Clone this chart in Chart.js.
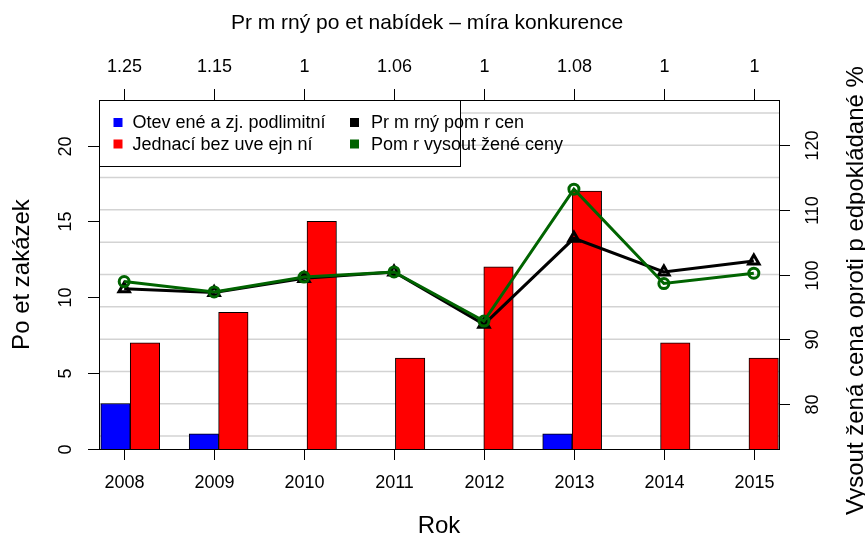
<!DOCTYPE html>
<html>
<head>
<meta charset="utf-8">
<script src="https://cdn.jsdelivr.net/npm/chart.js@4"></script>
<style>
  body { margin: 0; background: #fff; }
  #wrap { width: 865px; height: 533px; }
</style>
</head>
<body>
<div id="wrap"><canvas id="graf"></canvas></div>
<script>
// data
const roky = ["2008", "2009", "2010", "2011", "2012", "2013", "2014", "2015"];
const otevrene = [3, 1, 0, 0, 0, 1, 0, 0];
const jednaci = [7, 9, 15, 6, 12, 17, 7, 6];
const prumernyPomer = [97.8, 97.2, 99.4, 100.4, 92.3, 105.6, 100.4, 102.1];
const vysoutezene = [98.9, 97.3, 99.6, 100.4, 92.8, 113.2, 98.6, 100.2];
const nabidky = ["1.25", "1.15", "1", "1.06", "1", "1.08", "1", "1"];

const levaOsa = [0, 5, 10, 15, 20];
const pravaOsa = [80, 90, 100, 110, 120];
const mrizka = [75, 80, 85, 90, 95, 100, 105, 110, 115, 120, 125];

const FONT = '"Liberation Sans", Arial, Helvetica, sans-serif';

// bars sit at 3 units per year (blue, red, gap)
const sloupceModre = otevrene.map((v, i) => ({ x: 3 * i + 0.5, y: v }));
const sloupceCervene = jednaci.map((v, i) => ({ x: 3 * i + 1.5, y: v }));
const bodyCerne = prumernyPomer.map((v, i) => ({ x: i + 1, y: v }));
const bodyZelene = vysoutezene.map((v, i) => ({ x: i + 1, y: v }));

// gridlines behind the bars
const mrizkaPlugin = {
  id: "mrizka",
  beforeDatasetsDraw(chart) {
    const { ctx, chartArea: a, scales } = chart;
    ctx.save();
    ctx.strokeStyle = "#d3d3d3";
    ctx.lineWidth = 1.5;
    mrizka.forEach(v => {
      const y = scales.yr.getPixelForValue(v);
      ctx.beginPath();
      ctx.moveTo(a.left, y);
      ctx.lineTo(a.right, y);
      ctx.stroke();
    });
    ctx.restore();
  }
};

// axes, titles and legend in R style
const osyPlugin = {
  id: "osy",
  afterDraw(chart) {
    const { ctx, chartArea: a, scales } = chart;
    const tick = 11;
    ctx.save();
    ctx.strokeStyle = "#000";
    ctx.fillStyle = "#000";
    ctx.lineWidth = 1;
    ctx.strokeRect(a.left + 0.5, a.top + 0.5, a.right - a.left, a.bottom - a.top);

    ctx.font = "18px " + FONT;
    ctx.textAlign = "center";
    ctx.textBaseline = "middle";

    // bottom + top axes
    roky.forEach((r, i) => {
      const x = Math.round(scales.xl.getPixelForValue(i + 1)) + 0.5;
      ctx.beginPath();
      ctx.moveTo(x, a.bottom); ctx.lineTo(x, a.bottom + tick);
      ctx.moveTo(x, a.top); ctx.lineTo(x, a.top - tick);
      ctx.stroke();
      ctx.fillText(r, x, a.bottom + 34);
      ctx.fillText(nabidky[i], x, a.top - 33);
    });

    // left axis
    levaOsa.forEach(v => {
      const y = Math.round(scales.yl.getPixelForValue(v)) + 0.5;
      ctx.beginPath();
      ctx.moveTo(a.left, y); ctx.lineTo(a.left - tick, y);
      ctx.stroke();
      ctx.save();
      ctx.translate(a.left - 33, y);
      ctx.rotate(-Math.PI / 2);
      ctx.fillText(String(v), 0, 0);
      ctx.restore();
    });

    // right axis
    pravaOsa.forEach(v => {
      const y = Math.round(scales.yr.getPixelForValue(v)) + 0.5;
      ctx.beginPath();
      ctx.moveTo(a.right, y); ctx.lineTo(a.right + tick, y);
      ctx.stroke();
      ctx.save();
      ctx.translate(a.right + 34, y);
      ctx.rotate(-Math.PI / 2);
      ctx.fillText(String(v), 0, 0);
      ctx.restore();
    });

    // titles
    const stredX = (a.left + a.right) / 2;
    const stredY = (a.top + a.bottom) / 2;
    ctx.font = "21px " + FONT;
    ctx.fillText("Pr m rný po et nabídek – míra konkurence", stredX - 12, a.top - 77);
    ctx.font = "24px " + FONT;
    ctx.fillText("Rok", stredX, a.bottom + 77);
    ctx.save();
    ctx.translate(a.left - 77, stredY);
    ctx.rotate(-Math.PI / 2);
    ctx.fillText("Po et zakázek", 0, 0);
    ctx.restore();
    ctx.save();
    ctx.translate(a.right + 77, stredY + 16);
    ctx.rotate(-Math.PI / 2);
    ctx.fillText("Vysout žená cena oproti p edpokládané %", 0, 0);
    ctx.restore();

    // legend
    const lx = a.left, ly = a.top;
    ctx.fillStyle = "#fff";
    ctx.fillRect(lx, ly, 361, 66);
    ctx.strokeRect(lx + 0.5, ly + 0.5, 361, 66);
    const polozky = [
      ["Otev ené a zj. podlimitní", "#0000ff", 0, 0],
      ["Jednací bez uve ejn ní", "#ff0000", 0, 1],
      ["Pr m rný pom r cen", "#000000", 1, 0],
      ["Pom r vysout žené ceny", "#006400", 1, 1]
    ];
    ctx.font = "18px " + FONT;
    ctx.textAlign = "left";
    polozky.forEach(([txt, barva, sl, rad]) => {
      const sx = lx + (sl ? 255.5 : 19);
      const sy = ly + (rad ? 44 : 22.5);
      ctx.fillStyle = barva;
      ctx.fillRect(sx - 4.5, sy - 4.5, 9, 9);
      ctx.fillStyle = "#000";
      ctx.fillText(txt, sx + (sl ? 16.5 : 14.5), sy + 1);
    });
    ctx.restore();
  }
};

new Chart(document.getElementById("graf"), {
  type: "bar",
  data: {
    datasets: [
      {
        label: "Pom r vysout žené ceny",
        type: "line",
        data: bodyZelene,
        xAxisID: "xl", yAxisID: "yr",
        borderColor: "#006400",
        borderWidth: 3,
        pointStyle: "circle",
        pointRadius: 5,
        pointBorderWidth: 3,
        pointBorderColor: "#006400",
        pointBackgroundColor: "rgba(0,0,0,0)",
        tension: 0,
        order: 1
      },
      {
        label: "Pr m rný pom r cen",
        type: "line",
        data: bodyCerne,
        xAxisID: "xl", yAxisID: "yr",
        borderColor: "#000",
        borderWidth: 3,
        pointStyle: "triangle",
        pointRadius: 6,
        pointBorderWidth: 3,
        pointBorderColor: "#000",
        pointBackgroundColor: "rgba(0,0,0,0)",
        tension: 0,
        order: 2
      },
      {
        label: "Otev ené a zj. podlimitní",
        data: sloupceModre,
        xAxisID: "xb", yAxisID: "yl",
        backgroundColor: "#0000ff",
        borderColor: "#000",
        borderWidth: 1,
        grouped: false,
        barPercentage: 1,
        categoryPercentage: 1,
        order: 4
      },
      {
        label: "Jednací bez uve ejn ní",
        data: sloupceCervene,
        xAxisID: "xb", yAxisID: "yl",
        backgroundColor: "#ff0000",
        borderColor: "#000",
        borderWidth: 1,
        grouped: false,
        barPercentage: 1,
        categoryPercentage: 1,
        order: 3
      }
    ]
  },
  options: {
    responsive: true,
    maintainAspectRatio: false,
    animation: false,
    events: [],
    layout: { padding: { left: 99, top: 100, right: 86, bottom: 84 } },
    plugins: { legend: { display: false }, tooltip: { enabled: false } },
    scales: {
      xb: { type: "linear", display: false, min: -0.06, max: 23.02, offset: false },
      xl: { type: "linear", display: false, min: 0.72, max: 8.28, offset: false },
      yl: { type: "linear", display: false, min: 0, max: 23 },
      yr: { type: "linear", display: false, min: 73, max: 127 }
    }
  },
  plugins: [mrizkaPlugin, osyPlugin]
});
</script>
</body>
</html>
